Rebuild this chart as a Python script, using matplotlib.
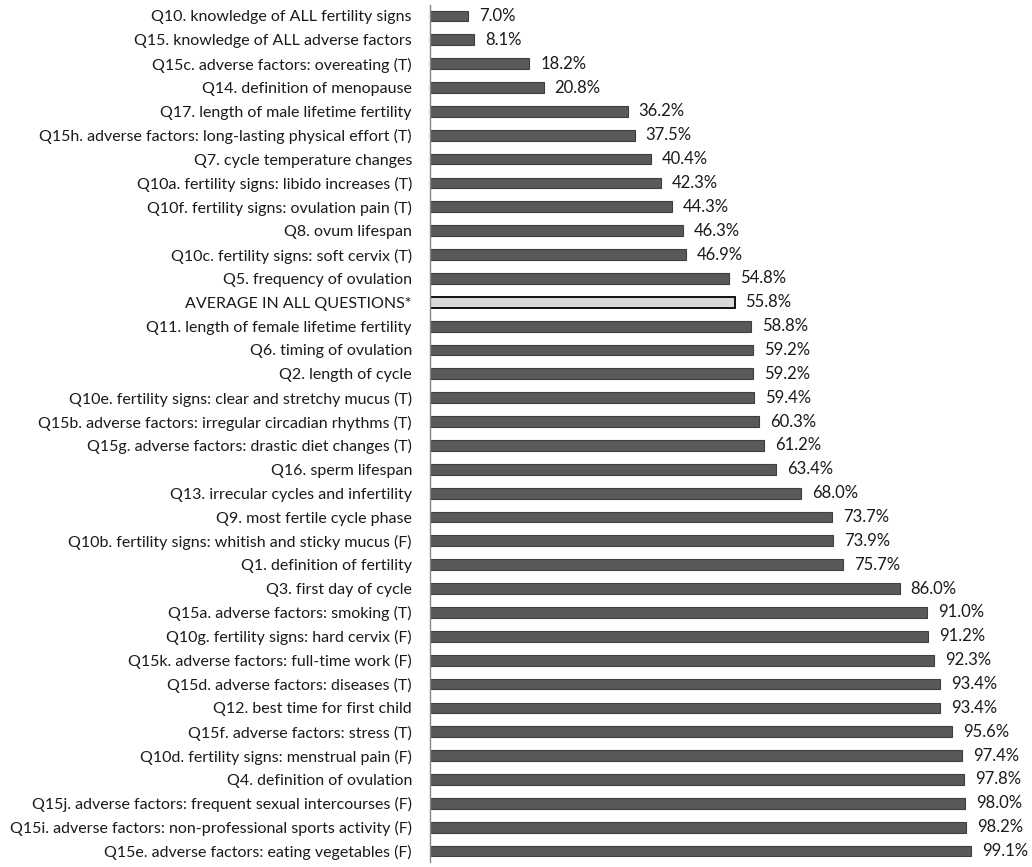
import matplotlib.pyplot as plt

plt.rcParams['font.family'] = ['Lato', 'DejaVu Sans']

# questions, top to bottom as in the chart
questions = [
    "Q10. knowledge of ALL fertility signs",
    "Q15. knowledge of ALL adverse factors",
    "Q15c. adverse factors: overeating (T)",
    "Q14. definition of menopause",
    "Q17. length of male lifetime fertility",
    "Q15h. adverse factors: long-lasting physical effort (T)",
    "Q7. cycle temperature changes",
    "Q10a. fertility signs: libido increases (T)",
    "Q10f. fertility signs: ovulation pain (T)",
    "Q8. ovum lifespan",
    "Q10c. fertility signs: soft cervix (T)",
    "Q5. frequency of ovulation",
    "AVERAGE IN ALL QUESTIONS*",
    "Q11. length of female lifetime fertility",
    "Q6. timing of ovulation",
    "Q2. length of cycle",
    "Q10e. fertility signs: clear and stretchy mucus (T)",
    "Q15b. adverse factors: irregular circadian rhythms (T)",
    "Q15g. adverse factors: drastic diet changes (T)",
    "Q16. sperm lifespan",
    "Q13. irrecular cycles and infertility",
    "Q9. most fertile cycle phase",
    "Q10b. fertility signs: whitish and sticky mucus (F)",
    "Q1. definition of fertility",
    "Q3. first day of cycle",
    "Q15a. adverse factors: smoking (T)",
    "Q10g. fertility signs: hard cervix (F)",
    "Q15k. adverse factors: full-time work (F)",
    "Q15d. adverse factors: diseases (T)",
    "Q12. best time for first child",
    "Q15f. adverse factors: stress (T)",
    "Q10d. fertility signs: menstrual pain (F)",
    "Q4. definition of ovulation",
    "Q15j. adverse factors: frequent sexual intercourses (F)",
    "Q15i. adverse factors: non-professional sports activity (F)",
    "Q15e. adverse factors: eating vegetables (F)",
]
percent = [7.0, 8.1, 18.2, 20.8, 36.2, 37.5, 40.4, 42.3, 44.3, 46.3, 46.9, 54.8,
           55.8, 58.8, 59.2, 59.2, 59.4, 60.3, 61.2, 63.4, 68.0, 73.7, 73.9, 75.7,
           86.0, 91.0, 91.2, 92.3, 93.4, 93.4, 95.6, 97.4, 97.8, 98.0, 98.2, 99.1]
average_label = "AVERAGE IN ALL QUESTIONS*"

fig = plt.figure(figsize=(10.32, 8.67), dpi=100)
ax = fig.add_axes([430 / 1032, 5 / 867, 546 / 1032, 857 / 867])

ypos = list(range(len(questions)))
colors = ["#d9d9d9" if q == average_label else "#595959" for q in questions]
edges = ["#000000" if q == average_label else "#3f3f3f" for q in questions]
widths = [1.3 if q == average_label else 0.8 for q in questions]
ax.barh(ypos, percent, height=0.45, color=colors, edgecolor=edges, linewidth=widths)

for y, v in zip(ypos, percent):
    ax.text(v + 2.0, y, "%.1f%%" % v, va="center", ha="left", fontsize=12, color="#1a1a1a")

ax.set_xlim(0, 100)
ax.set_ylim(len(questions) - 0.54, -0.46)
ax.set_yticks(ypos)
ax.set_yticklabels(questions, fontsize=11.5, color="#1a1a1a")
ax.tick_params(axis="y", length=0, pad=13)
ax.set_xticks([])
for side in ["top", "right", "bottom"]:
    ax.spines[side].set_visible(False)
ax.spines["left"].set_color("#868686")
ax.spines["left"].set_linewidth(1)

fig.savefig("out.png", dpi=100)
